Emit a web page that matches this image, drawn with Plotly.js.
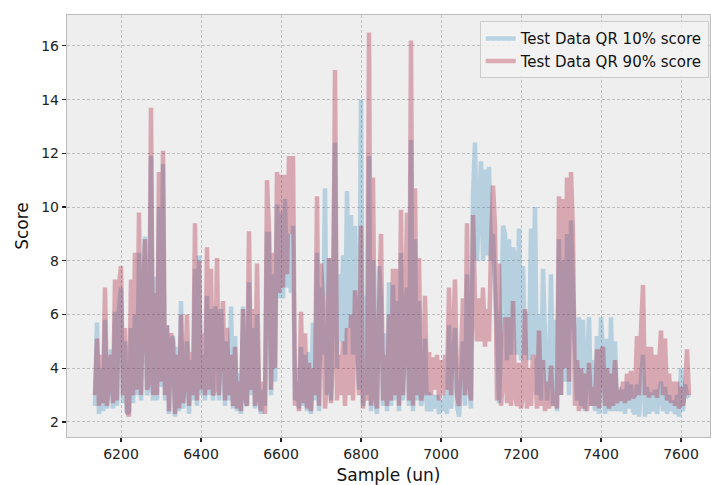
<!DOCTYPE html>
<html>
<head>
<meta charset="utf-8">
<script src="https://cdn.plot.ly/plotly-3.0.1.min.js"></script>
<style>html,body{margin:0;padding:0;background:#fff;}#chart{width:711px;height:485px;}</style>
</head>
<body>
<div id="chart"></div>
<script>
// Sample index: first sample and spacing between read values
const sampleStart = 6135;
const sampleStep = 5;

const seriesNames = ["Test Data QR 10% score", "Test Data QR 90% score"];

// Test Data QR 10% score (50 samples per row)
const score10 = [
  2.6, 5.7, 2.3, 4.0, 2.4, 5.8, 2.5, 3.5, 4.7, 2.5,
  6.1, 2.6, 6.2, 7.0, 2.7, 5.0, 2.3, 2.4, 5.5, 2.7,
  6.0, 3.0, 8.3, 2.8, 6.6, 8.9, 3.0, 3.3, 11.9, 2.8,
  7.4, 2.8, 10.0, 3.3, 11.6, 2.8, 5.6, 2.3, 5.0, 5.2,
  2.2, 4.8, 2.4, 6.5, 2.5, 3.3, 5.0, 2.3, 4.3, 2.8,
  7.7, 2.6, 8.2, 3.0, 4.5, 2.8, 6.7, 3.0, 6.2, 2.8,
  6.3, 6.0, 2.8, 6.2, 4.5, 2.6, 5.0, 2.8, 6.3, 2.5,
  5.2, 2.4, 3.8, 2.3, 6.3, 2.8, 2.6, 7.2, 3.0, 5.5,
  2.5, 6.0, 2.8, 2.3, 3.2, 2.6, 9.0, 9.0, 3.0, 7.5,
  3.5, 10.1, 6.6, 9.8, 6.6, 10.3, 7.0, 9.0, 6.8, 9.3,
  2.8, 4.0, 2.5, 4.8, 2.6, 4.5, 2.4, 4.6, 2.3, 5.7,
  2.8, 8.3, 2.4, 7.0, 4.5, 10.7, 3.0, 8.1, 2.8, 7.4,
  12.4, 4.0, 7.5, 5.0, 8.2, 4.5, 10.6, 5.5, 9.7, 4.5,
  9.3, 5.0, 3.2, 14.0, 2.6, 6.7, 3.0, 11.9, 2.4, 8.0,
  2.8, 2.3, 7.8, 6.5, 2.6, 5.3, 2.4, 7.2, 2.6, 7.1,
  2.8, 6.5, 2.4, 8.3, 2.8, 6.1, 7.0, 2.6, 12.5, 2.4,
  8.8, 2.8, 6.5, 2.6, 3.0, 5.1, 2.4, 3.1, 2.4, 3.0,
  2.5, 3.0, 2.3, 2.8, 2.4, 3.0, 2.3, 5.6, 2.5, 4.0,
  5.5, 2.6, 2.2, 3.5, 5.0, 2.6, 7.5, 3.5, 2.5, 10.4,
  12.4, 8.0, 10.0, 11.7, 8.0, 11.4, 8.2, 11.5, 8.0, 9.0,
  7.0, 5.5, 2.7, 5.0, 9.3, 9.0, 4.3, 8.8, 4.5, 8.5,
  8.1, 4.5, 9.2, 4.3, 7.8, 4.5, 6.1, 4.3, 9.2, 4.5,
  10.0, 3.0, 6.0, 2.8, 7.7, 5.2, 2.8, 3.7, 7.5, 2.6,
  5.8, 2.4, 8.8, 3.0, 8.0, 3.5, 9.0, 3.0, 9.5, 6.8,
  4.8, 2.8, 5.9, 2.6, 5.8, 2.4, 4.0, 5.9, 2.6, 4.3,
  2.4, 5.2, 2.3, 5.9, 4.6, 2.3, 5.1, 2.4, 5.9, 2.4,
  5.0, 2.4, 3.3, 2.4, 3.2, 2.3, 3.5, 2.5, 3.4, 2.4,
  2.3, 3.4, 2.2, 3.6, 4.5, 2.2, 3.3, 2.3, 3.1, 2.4,
  3.2, 2.3, 3.0, 3.5, 2.4, 3.3, 2.3, 3.0, 2.4, 2.8,
  2.3, 3.0, 2.2, 4.0, 2.4, 3.4, 3.0, 2.9
];

// Test Data QR 90% score
const score90 = [
  3.0, 5.1, 2.6, 4.5, 2.7, 7.0, 2.6, 3.8, 4.5, 2.7,
  7.3, 2.8, 7.1, 7.8, 3.0, 5.5, 2.4, 2.2, 7.3, 3.0,
  8.3, 3.2, 9.8, 3.0, 6.5, 8.8, 3.2, 3.5, 13.7, 3.0,
  6.8, 3.0, 11.3, 3.5, 12.1, 3.0, 5.6, 2.4, 5.3, 5.0,
  2.3, 4.5, 2.5, 6.0, 2.7, 3.5, 6.0, 2.6, 4.6, 3.0,
  9.4, 2.8, 8.0, 3.2, 5.3, 3.0, 8.5, 3.2, 7.7, 3.0,
  3.2, 8.1, 3.0, 5.0, 6.5, 2.8, 5.5, 3.0, 4.5, 2.6,
  4.8, 2.5, 3.5, 2.4, 6.2, 3.0, 2.6, 9.1, 3.2, 6.2,
  2.6, 7.9, 3.0, 2.4, 3.5, 2.3, 11.0, 9.1, 3.2, 8.3,
  4.0, 11.3, 6.8, 11.2, 7.0, 11.2, 7.5, 11.9, 9.0, 11.9,
  2.6, 3.5, 2.4, 6.1, 2.7, 5.3, 2.5, 4.2, 2.4, 4.0,
  3.0, 10.4, 2.6, 7.9, 6.4, 2.5, 3.5, 8.1, 2.7, 4.5,
  15.1, 2.8, 4.5, 3.0, 5.0, 2.6, 5.5, 3.0, 6.0, 2.8,
  6.9, 5.9, 3.0, 9.3, 2.5, 3.5, 2.8, 16.5, 2.6, 11.1,
  3.0, 2.5, 6.0, 9.0, 2.8, 4.5, 2.6, 6.0, 2.8, 7.7,
  3.0, 7.7, 2.6, 9.9, 3.0, 5.0, 9.8, 2.8, 16.2, 2.6,
  10.7, 3.0, 8.1, 2.8, 3.2, 6.7, 3.0, 4.6, 3.0, 4.4,
  3.2, 4.5, 2.8, 4.3, 3.0, 4.5, 3.2, 7.0, 3.0, 5.1,
  7.3, 3.0, 2.6, 4.5, 6.6, 3.0, 9.4, 3.5, 2.8, 9.7,
  6.5, 5.0, 6.6, 5.0, 7.0, 4.8, 6.2, 5.0, 8.5, 10.8,
  9.3, 2.8, 7.9, 2.6, 3.5, 5.9, 2.7, 5.9, 2.6, 6.5,
  3.0, 2.6, 4.2, 2.5, 3.0, 6.2, 2.5, 4.0, 2.6, 4.5,
  4.0, 2.5, 5.4, 2.6, 4.3, 2.4, 3.5, 2.5, 4.1, 2.6,
  3.0, 2.5, 10.4, 3.0, 10.3, 4.0, 11.1, 3.5, 11.3, 9.0,
  2.6, 4.3, 2.4, 4.0, 2.5, 3.8, 2.4, 4.2, 2.6, 3.3,
  2.6, 4.7, 2.5, 4.6, 4.8, 2.6, 4.0, 2.5, 3.8, 2.6,
  4.3, 2.7, 3.2, 2.8, 3.5, 2.7, 3.8, 2.8, 3.9, 2.9,
  3.0, 5.2, 3.0, 5.4, 7.1, 3.0, 4.8, 2.9, 4.8, 3.0,
  4.5, 2.9, 4.1, 5.4, 3.0, 5.1, 2.8, 3.8, 2.7, 3.5,
  2.6, 3.5, 2.5, 3.3, 2.6, 3.2, 4.7, 3.0
];

const xTicks = [6200, 6400, 6600, 6800, 7000, 7200, 7400, 7600];
const yTicks = [2, 4, 6, 8, 10, 12, 14, 16];

const samples = score10.map((_, i) => sampleStart + i * sampleStep);

const font = "DejaVu Sans, sans-serif";

const traces = [
  {
    x: samples, y: score10, type: "scatter", mode: "lines", name: seriesNames[0],
    line: {color: "rgba(52,138,189,0.3)", width: 4.5, simplify: false}
  },
  {
    x: samples, y: score90, type: "scatter", mode: "lines", name: seriesNames[1],
    line: {color: "rgba(166,6,40,0.3)", width: 4.5, simplify: false}
  }
];

const axisCommon = {
  showline: true, mirror: true, linecolor: "#bcbcbc", linewidth: 1.2,
  showgrid: true, gridcolor: "#b2b2b2", griddash: "3px,2px", gridwidth: 0.8,
  zeroline: false,
  ticks: "outside", ticklen: 4, tickwidth: 1.2, tickcolor: "#222",
  tickfont: {family: font, size: 14, color: "#222"}
};

const layout = {
  width: 711, height: 485,
  margin: {l: 67, r: 1, t: 15, b: 48},
  paper_bgcolor: "#ffffff",
  plot_bgcolor: "#eeeeee",
  showlegend: true,
  xaxis: Object.assign({}, axisCommon, {
    range: [6065, 7672.5], tickvals: xTicks, ticktext: xTicks.map(String),
    title: {text: "Sample (un)", font: {family: font, size: 17, color: "#111"}, standoff: 9}
  }),
  yaxis: Object.assign({}, axisCommon, {
    range: [1.44, 17.15], tickvals: yTicks, ticktext: yTicks.map(String),
    title: {text: "Score", font: {family: font, size: 17, color: "#111"}, standoff: 8}
  }),
  legend: {
    x: 0.998, y: 0.985, xanchor: "right", yanchor: "top",
    bgcolor: "rgba(242,242,242,0.85)", bordercolor: "#cccccc", borderwidth: 1,
    font: {family: font, size: 15, color: "#111"},
    itemwidth: 30, tracegroupgap: 0
  }
};

Plotly.newPlot("chart", traces, layout, {displayModeBar: false, staticPlot: true});
</script>
</body>
</html>
